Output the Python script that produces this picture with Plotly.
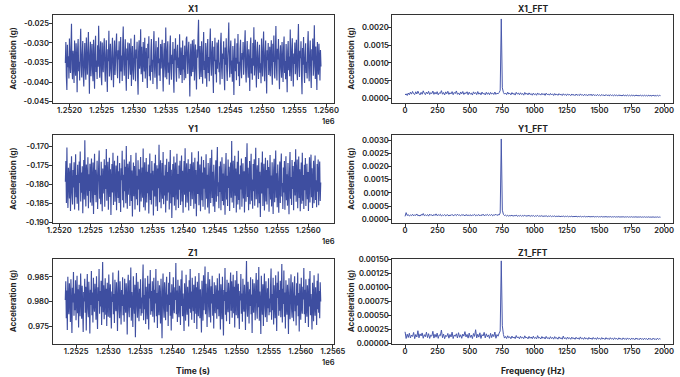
import plotly.graph_objects as go

# ---------------- data ----------------
# time-domain samples (g); sampling grid given by start time and interval
x1_t0, x1_dt = 1251935, 7.976
y1_t0, y1_dt = 1252099, 8.222
z1_t0, z1_dt = 1252331, 7.974

x1 = [-0.0351,-0.0298,-0.0387,-0.0420,-0.0305,-0.0362,-0.0334,-0.0391,-0.0289,-0.0346,-0.0377,-0.0312,-0.0251,-0.0368,-0.0393,-0.0320,-0.0341,-0.0402,-0.0294,-0.0357,-0.0384,-0.0301,-0.0339,-0.0426,-0.0315,
      -0.0290,-0.0372,-0.0348,-0.0396,-0.0309,-0.0264,-0.0359,-0.0388,-0.0327,-0.0295,-0.0379,-0.0411,-0.0336,-0.0300,-0.0366,-0.0394,-0.0286,-0.0343,-0.0381,-0.0318,-0.0272,-0.0355,-0.0430,-0.0329,-0.0297,
      -0.0385,-0.0340,-0.0303,-0.0369,-0.0398,-0.0292,-0.0350,-0.0417,-0.0313,-0.0282,-0.0374,-0.0345,-0.0392,-0.0306,-0.0361,-0.0256,-0.0337,-0.0389,-0.0321,-0.0296,-0.0383,-0.0408,-0.0299,-0.0352,-0.0375,
      -0.0311,-0.0288,-0.0364,-0.0399,-0.0330,-0.0293,-0.0378,-0.0425,-0.0316,-0.0347,-0.0269,-0.0386,-0.0354,-0.0302,-0.0371,-0.0395,-0.0324,-0.0287,-0.0358,-0.0413,-0.0338,-0.0294,-0.0382,-0.0349,-0.0307,
      -0.0276,-0.0367,-0.0390,-0.0319,-0.0342,-0.0296,-0.0403,-0.0360,-0.0285,-0.0373,-0.0332,-0.0397,-0.0304,-0.0258,-0.0356,-0.0384,-0.0328,-0.0291,-0.0376,-0.0422,-0.0314,-0.0344,-0.0299,-0.0392,-0.0363,
      -0.0301,-0.0335,-0.0381,-0.0289,-0.0410,-0.0353,-0.0308,-0.0370,-0.0394,-0.0326,-0.0279,-0.0361,-0.0398,-0.0317,-0.0340,-0.0297,-0.0387,-0.0432,-0.0322,-0.0293,-0.0366,-0.0349,-0.0265,-0.0380,-0.0310,
      -0.0357,-0.0400,-0.0298,-0.0334,-0.0373,-0.0287,-0.0391,-0.0346,-0.0313,-0.0369,-0.0415,-0.0302,-0.0339,-0.0283,-0.0385,-0.0358,-0.0396,-0.0321,-0.0290,-0.0374,-0.0343,-0.0405,-0.0306,-0.0270,-0.0362,
      -0.0389,-0.0329,-0.0295,-0.0378,-0.0418,-0.0311,-0.0352,-0.0286,-0.0383,-0.0340,-0.0397,-0.0303,-0.0365,-0.0326,-0.0292,-0.0371,-0.0424,-0.0336,-0.0300,-0.0359,-0.0388,-0.0261,-0.0347,-0.0393,-0.0318,
      -0.0296,-0.0376,-0.0350,-0.0407,-0.0309,-0.0281,-0.0367,-0.0394,-0.0330,-0.0354,-0.0298,-0.0386,-0.0427,-0.0315,-0.0344,-0.0288,-0.0372,-0.0399,-0.0323,-0.0305,-0.0364,-0.0337,-0.0391,-0.0278,-0.0356,
      -0.0382,-0.0312,-0.0345,-0.0402,-0.0294,-0.0368,-0.0331,-0.0395,-0.0307,-0.0353,-0.0390,-0.0289,-0.0284,-0.0342,-0.0379,-0.0320,-0.0297,-0.0366,-0.0437,-0.0334,-0.0302,-0.0385,-0.0357,-0.0293,-0.0374,
      -0.0328,-0.0291,-0.0396,-0.0349,-0.0304,-0.0371,-0.0419,-0.0317,-0.0338,-0.0283,-0.0241,-0.0362,-0.0393,-0.0308,-0.0355,-0.0387,-0.0296,-0.0340,-0.0404,-0.0325,-0.0272,-0.0369,-0.0346,-0.0391,-0.0300,
      -0.0359,-0.0412,-0.0314,-0.0290,-0.0377,-0.0336,-0.0398,-0.0306,-0.0263,-0.0351,-0.0384,-0.0322,-0.0295,-0.0373,-0.0428,-0.0310,-0.0347,-0.0287,-0.0380,-0.0343,-0.0401,-0.0299,-0.0366,-0.0319,-0.0292,
      -0.0375,-0.0350,-0.0406,-0.0303,-0.0274,-0.0363,-0.0392,-0.0327,-0.0341,-0.0296,-0.0383,-0.0421,-0.0312,-0.0356,-0.0288,-0.0370,-0.0397,-0.0333,-0.0305,-0.0248,-0.0360,-0.0388,-0.0318,-0.0294,-0.0379,
      -0.0345,-0.0399,-0.0308,-0.0364,-0.0433,-0.0321,-0.0289,-0.0372,-0.0338,-0.0395,-0.0301,-0.0353,-0.0277,-0.0385,-0.0348,-0.0410,-0.0315,-0.0292,-0.0367,-0.0390,-0.0326,-0.0343,-0.0298,-0.0381,-0.0355,
      -0.0304,-0.0268,-0.0374,-0.0401,-0.0331,-0.0295,-0.0362,-0.0389,-0.0316,-0.0350,-0.0423,-0.0309,-0.0286,-0.0378,-0.0339,-0.0394,-0.0300,-0.0358,-0.0260,-0.0383,-0.0347,-0.0292,-0.0369,-0.0414,-0.0323,
      -0.0297,-0.0365,-0.0392,-0.0334,-0.0305,-0.0376,-0.0352,-0.0403,-0.0289,-0.0341,-0.0386,-0.0313,-0.0271,-0.0361,-0.0398,-0.0328,-0.0294,-0.0371,-0.0429,-0.0319,-0.0344,-0.0300,-0.0382,-0.0356,-0.0310,
      -0.0385,-0.0337,-0.0293,-0.0368,-0.0407,-0.0302,-0.0349,-0.0281,-0.0379,-0.0391,-0.0324,-0.0257,-0.0357,-0.0396,-0.0315,-0.0342,-0.0290,-0.0373,-0.0418,-0.0330,-0.0306,-0.0366,-0.0389,-0.0298,-0.0351,
      -0.0400,-0.0311,-0.0284,-0.0377,-0.0346,-0.0393,-0.0303,-0.0360,-0.0426,-0.0322,-0.0295,-0.0370,-0.0335,-0.0385,-0.0266,-0.0348,-0.0397,-0.0317,-0.0288,-0.0364,-0.0411,-0.0327,-0.0354,-0.0299,-0.0380,
      -0.0342,-0.0292,-0.0374,-0.0395,-0.0308,-0.0252,-0.0361,-0.0387,-0.0320,-0.0339,-0.0296,-0.0383,-0.0431,-0.0313,-0.0356,-0.0285,-0.0369,-0.0402,-0.0330,-0.0301,-0.0377,-0.0348,-0.0391,-0.0305,-0.0270,
      -0.0363,-0.0398,-0.0325,-0.0294,-0.0372,-0.0415,-0.0316,-0.0345,-0.0289,-0.0384,-0.0359,-0.0255,-0.0337,-0.0392,-0.0309,-0.0366,-0.0420,-0.0298,-0.0351,-0.0381,-0.0302,-0.0343,-0.0396,-0.0318,-0.0360]

y1 = [-0.1793,-0.1738,-0.1849,-0.1702,-0.1815,-0.1862,-0.1756,-0.1781,-0.1837,-0.1744,-0.1870,-0.1799,-0.1725,-0.1826,-0.1853,-0.1762,-0.1808,-0.1741,-0.1866,-0.1787,-0.1720,-0.1834,-0.1775,-0.1851,-0.1748,
      -0.1811,-0.1869,-0.1739,-0.1796,-0.1713,-0.1845,-0.1768,-0.1822,-0.1752,-0.1876,-0.1790,-0.1735,-0.1840,-0.1683,-0.1804,-0.1858,-0.1747,-0.1782,-0.1830,-0.1728,-0.1863,-0.1773,-0.1817,-0.1745,-0.1848,
      -0.1769,-0.1731,-0.1856,-0.1800,-0.1742,-0.1878,-0.1785,-0.1719,-0.1828,-0.1761,-0.1847,-0.1795,-0.1737,-0.1865,-0.1809,-0.1754,-0.1710,-0.1838,-0.1776,-0.1852,-0.1740,-0.1801,-0.1871,-0.1758,-0.1824,
      -0.1786,-0.1733,-0.1859,-0.1749,-0.1812,-0.1706,-0.1843,-0.1778,-0.1740,-0.1867,-0.1797,-0.1729,-0.1833,-0.1760,-0.1881,-0.1792,-0.1746,-0.1821,-0.1716,-0.1854,-0.1772,-0.1737,-0.1846,-0.1803,-0.1750,
      -0.1868,-0.1780,-0.1724,-0.1836,-0.1765,-0.1849,-0.1743,-0.1806,-0.1873,-0.1757,-0.1789,-0.1711,-0.1842,-0.1774,-0.1861,-0.1734,-0.1818,-0.1753,-0.1850,-0.1698,-0.1795,-0.1864,-0.1745,-0.1827,-0.1771,
      -0.1739,-0.1857,-0.1802,-0.1722,-0.1844,-0.1763,-0.1885,-0.1788,-0.1742,-0.1831,-0.1751,-0.1866,-0.1794,-0.1716,-0.1839,-0.1777,-0.1855,-0.1736,-0.1813,-0.1760,-0.1872,-0.1784,-0.1727,-0.1845,-0.1798,
      -0.1755,-0.1835,-0.1705,-0.1860,-0.1779,-0.1741,-0.1869,-0.1807,-0.1730,-0.1848,-0.1766,-0.1823,-0.1747,-0.1877,-0.1791,-0.1718,-0.1841,-0.1770,-0.1853,-0.1738,-0.1816,-0.1764,-0.1882,-0.1797,-0.1744,
      -0.1832,-0.1721,-0.1858,-0.1783,-0.1749,-0.1870,-0.1758,-0.1810,-0.1695,-0.1847,-0.1773,-0.1736,-0.1863,-0.1800,-0.1743,-0.1838,-0.1714,-0.1852,-0.1776,-0.1829,-0.1748,-0.1874,-0.1792,-0.1732,-0.1843,
      -0.1767,-0.1821,-0.1740,-0.1866,-0.1787,-0.1709,-0.1850,-0.1761,-0.1889,-0.1805,-0.1746,-0.1834,-0.1726,-0.1856,-0.1781,-0.1742,-0.1868,-0.1799,-0.1719,-0.1840,-0.1772,-0.1862,-0.1750,-0.1814,-0.1737,
      -0.1854,-0.1790,-0.1723,-0.1845,-0.1764,-0.1875,-0.1784,-0.1738,-0.1827,-0.1704,-0.1860,-0.1775,-0.1744,-0.1848,-0.1808,-0.1733,-0.1869,-0.1759,-0.1819,-0.1745,-0.1857,-0.1793,-0.1715,-0.1839,-0.1770,
      -0.1741,-0.1864,-0.1796,-0.1729,-0.1851,-0.1762,-0.1884,-0.1802,-0.1739,-0.1825,-0.1712,-0.1855,-0.1778,-0.1747,-0.1871,-0.1789,-0.1726,-0.1842,-0.1768,-0.1859,-0.1735,-0.1811,-0.1755,-0.1867,-0.1785,
      -0.1720,-0.1838,-0.1774,-0.1861,-0.1743,-0.1806,-0.1877,-0.1760,-0.1730,-0.1849,-0.1791,-0.1708,-0.1836,-0.1766,-0.1858,-0.1748,-0.1815,-0.1873,-0.1781,-0.1736,-0.1846,-0.1757,-0.1701,-0.1831,-0.1794,
      -0.1863,-0.1752,-0.1820,-0.1739,-0.1868,-0.1786,-0.1728,-0.1844,-0.1771,-0.1855,-0.1745,-0.1799,-0.1880,-0.1763,-0.1717,-0.1840,-0.1777,-0.1857,-0.1734,-0.1809,-0.1753,-0.1870,-0.1788,-0.1742,-0.1835,
      -0.1685,-0.1848,-0.1769,-0.1737,-0.1862,-0.1795,-0.1724,-0.1830,-0.1758,-0.1874,-0.1782,-0.1740,-0.1853,-0.1711,-0.1841,-0.1773,-0.1866,-0.1750,-0.1813,-0.1731,-0.1859,-0.1797,-0.1744,-0.1837,-0.1765,
      -0.1874,-0.1780,-0.1727,-0.1846,-0.1761,-0.1691,-0.1833,-0.1756,-0.1868,-0.1801,-0.1738,-0.1852,-0.1774,-0.1719,-0.1843,-0.1787,-0.1864,-0.1746,-0.1818,-0.1733,-0.1856,-0.1769,-0.1703,-0.1839,-0.1792,
      -0.1749,-0.1861,-0.1783,-0.1730,-0.1850,-0.1766,-0.1886,-0.1798,-0.1742,-0.1824,-0.1713,-0.1857,-0.1779,-0.1745,-0.1869,-0.1794,-0.1729,-0.1845,-0.1762,-0.1853,-0.1736,-0.1810,-0.1754,-0.1872,-0.1788,
      -0.1722,-0.1840,-0.1776,-0.1858,-0.1741,-0.1807,-0.1878,-0.1763,-0.1732,-0.1847,-0.1790,-0.1710,-0.1835,-0.1770,-0.1860,-0.1747,-0.1817,-0.1875,-0.1784,-0.1739,-0.1849,-0.1758,-0.1718,-0.1832,-0.1796,
      -0.1865,-0.1755,-0.1821,-0.1738,-0.1867,-0.1789,-0.1725,-0.1842,-0.1773,-0.1856,-0.1743,-0.1803,-0.1879,-0.1766,-0.1714,-0.1838,-0.1780,-0.1854,-0.1735,-0.1812,-0.1751,-0.1868,-0.1786,-0.1740,-0.1829,
      -0.1707,-0.1846,-0.1771,-0.1734,-0.1863,-0.1792,-0.1726,-0.1836,-0.1760,-0.1871,-0.1783,-0.1742,-0.1851,-0.1716,-0.1843,-0.1775,-0.1865,-0.1748,-0.1815,-0.1730,-0.1857,-0.1799,-0.1745,-0.1839,-0.1767,
      -0.1870,-0.1782,-0.1728,-0.1848,-0.1764,-0.1721,-0.1834,-0.1757,-0.1862,-0.1802,-0.1737,-0.1850,-0.1776,-0.1723,-0.1841,-0.1789,-0.1860,-0.1746,-0.1819,-0.1734,-0.1855,-0.1770,-0.1739,-0.1844,-0.1795]

z1 = [0.9803,0.9841,0.9766,0.9822,0.9742,0.9850,0.9789,0.9774,0.9837,0.9812,0.9758,0.9845,0.9785,0.9736,0.9828,0.9798,0.9860,0.9771,0.9816,0.9782,0.9843,0.9762,0.9807,0.9852,0.9776,
      0.9825,0.9747,0.9834,0.9795,0.9770,0.9857,0.9810,0.9765,0.9832,0.9788,0.9738,0.9819,0.9800,0.9846,0.9777,0.9830,0.9741,0.9813,0.9856,0.9784,0.9768,0.9840,0.9802,0.9735,0.9824,
      0.9793,0.9862,0.9772,0.9818,0.9757,0.9848,0.9797,0.9779,0.9836,0.9808,0.9763,0.9851,0.9786,0.9744,0.9829,0.9801,0.9866,0.9775,0.9821,0.9790,0.9842,0.9752,0.9811,0.9880,0.9778,
      0.9833,0.9764,0.9805,0.9847,0.9773,0.9826,0.9750,0.9838,0.9796,0.9769,0.9855,0.9809,0.9767,0.9835,0.9787,0.9745,0.9820,0.9799,0.9859,0.9774,0.9815,0.9756,0.9844,0.9792,0.9780,
      0.9839,0.9804,0.9740,0.9827,0.9863,0.9783,0.9766,0.9841,0.9806,0.9753,0.9823,0.9791,0.9849,0.9772,0.9814,0.9759,0.9846,0.9798,0.9777,0.9837,0.9810,0.9733,0.9828,0.9854,0.9781,
      0.9768,0.9843,0.9787,0.9869,0.9761,0.9819,0.9794,0.9748,0.9851,0.9802,0.9775,0.9834,0.9727,0.9812,0.9858,0.9790,0.9767,0.9840,0.9799,0.9760,0.9826,0.9785,0.9845,0.9771,0.9808,
      0.9776,0.9831,0.9875,0.9762,0.9813,0.9784,0.9847,0.9754,0.9830,0.9801,0.9764,0.9852,0.9789,0.9743,0.9836,0.9806,0.9864,0.9773,0.9821,0.9780,0.9841,0.9769,0.9811,0.9848,0.9757,
      0.9824,0.9796,0.9866,0.9770,0.9817,0.9746,0.9842,0.9792,0.9772,0.9833,0.9805,0.9755,0.9846,0.9786,0.9725,0.9819,0.9857,0.9787,0.9767,0.9839,0.9798,0.9762,0.9827,0.9850,0.9779,
      0.9814,0.9750,0.9838,0.9793,0.9860,0.9771,0.9818,0.9741,0.9835,0.9800,0.9765,0.9849,0.9790,0.9776,0.9829,0.9803,0.9878,0.9774,0.9822,0.9758,0.9844,0.9788,0.9768,0.9832,0.9809,
      0.9752,0.9845,0.9791,0.9863,0.9770,0.9816,0.9783,0.9740,0.9837,0.9804,0.9761,0.9854,0.9794,0.9773,0.9830,0.9797,0.9749,0.9843,0.9785,0.9866,0.9777,0.9820,0.9763,0.9848,0.9801,
      0.9780,0.9834,0.9756,0.9811,0.9851,0.9775,0.9829,0.9744,0.9840,0.9795,0.9770,0.9858,0.9806,0.9766,0.9825,0.9787,0.9737,0.9842,0.9799,0.9761,0.9853,0.9782,0.9817,0.9871,0.9774,
      0.9836,0.9803,0.9748,0.9826,0.9860,0.9789,0.9768,0.9845,0.9808,0.9757,0.9831,0.9796,0.9852,0.9771,0.9815,0.9745,0.9839,0.9792,0.9776,0.9833,0.9810,0.9765,0.9847,0.9784,0.9822,
      0.9770,0.9857,0.9798,0.9743,0.9835,0.9805,0.9764,0.9850,0.9786,0.9731,0.9823,0.9801,0.9868,0.9773,0.9819,0.9760,0.9844,0.9793,0.9778,0.9838,0.9812,0.9754,0.9829,0.9859,0.9781,
      0.9841,0.9767,0.9809,0.9854,0.9776,0.9830,0.9747,0.9843,0.9797,0.9772,0.9862,0.9813,0.9766,0.9836,0.9790,0.9744,0.9821,0.9802,0.9856,0.9775,0.9816,0.9759,0.9846,0.9794,0.9779,
      0.9834,0.9800,0.9742,0.9828,0.9882,0.9785,0.9769,0.9840,0.9807,0.9755,0.9825,0.9791,0.9849,0.9774,0.9814,0.9736,0.9845,0.9799,0.9777,0.9837,0.9809,0.9762,0.9831,0.9858,0.9783,
      0.9765,0.9844,0.9788,0.9870,0.9761,0.9820,0.9795,0.9734,0.9852,0.9803,0.9773,0.9835,0.9750,0.9813,0.9857,0.9789,0.9768,0.9841,0.9798,0.9758,0.9827,0.9786,0.9847,0.9772,0.9806,
      0.9778,0.9832,0.9867,0.9763,0.9815,0.9782,0.9848,0.9753,0.9833,0.9802,0.9766,0.9853,0.9790,0.9740,0.9838,0.9807,0.9861,0.9771,0.9823,0.9781,0.9842,0.9768,0.9810,0.9876,0.9757,
      0.9826,0.9795,0.9863,0.9769,0.9818,0.9745,0.9843,0.9793,0.9773,0.9834,0.9804,0.9734,0.9847,0.9787,0.9764,0.9819,0.9855,0.9786,0.9767,0.9839,0.9797,0.9760,0.9828,0.9851,0.9780,
      0.9812,0.9751,0.9837,0.9792,0.9859,0.9770,0.9817,0.9739,0.9836,0.9801,0.9763,0.9848,0.9789,0.9775,0.9830,0.9804,0.9868,0.9774,0.9824,0.9756,0.9845,0.9787,0.9769,0.9833,0.9808,
      0.9748,0.9846,0.9790,0.9862,0.9772,0.9815,0.9782,0.9743,0.9838,0.9803,0.9760,0.9853,0.9795,0.9771,0.9829,0.9798,0.9752,0.9842,0.9784,0.9857,0.9777,0.9821,0.9766,0.9839,0.9800]

# spectra (g); frequency bin width (Hz)
f_step = 8.25

x1_fft = [1.05e-4,1.38e-4,9.2e-5,1.61e-4,1.12e-4,1.86e-4,1.29e-4,2.04e-4,1.41e-4,1.17e-4,1.95e-4,1.33e-4,2.12e-4,1.48e-4,1.09e-4,1.79e-4,1.26e-4,2.21e-4,1.52e-4,1.15e-4,
          1.88e-4,1.36e-4,2.07e-4,1.19e-4,1.71e-4,1.44e-4,2.15e-4,1.23e-4,1.82e-4,1.31e-4,1.98e-4,1.11e-4,1.66e-4,1.49e-4,2.26e-4,1.27e-4,1.74e-4,1.06e-4,1.92e-4,1.39e-4,
          2.09e-4,1.21e-4,1.68e-4,1.35e-4,1.99e-4,1.14e-4,1.77e-4,1.46e-4,2.18e-4,1.24e-4,1.63e-4,1.08e-4,1.90e-4,1.37e-4,2.03e-4,1.19e-4,1.72e-4,1.43e-4,1.96e-4,1.12e-4,
          1.84e-4,1.30e-4,1.58e-4,1.04e-4,1.93e-4,1.40e-4,1.75e-4,1.16e-4,2.01e-4,1.28e-4,1.65e-4,1.10e-4,1.87e-4,1.34e-4,1.54e-4,1.07e-4,1.81e-4,1.25e-4,1.69e-4,1.13e-4,
          1.78e-4,1.32e-4,1.60e-4,1.18e-4,1.89e-4,1.22e-4,1.57e-4,1.38e-4,1.73e-4,2.35e-4,2.23e-3,3.05e-4,1.76e-4,1.29e-4,1.62e-4,1.15e-4,1.85e-4,1.33e-4,1.56e-4,1.09e-4,
          1.73e-4,1.26e-4,1.52e-4,1.03e-4,1.80e-4,1.31e-4,1.59e-4,1.12e-4,1.67e-4,1.20e-4,1.48e-4,1.01e-4,1.76e-4,1.24e-4,1.55e-4,1.08e-4,1.64e-4,1.17e-4,1.45e-4,9.9e-5,
          1.58e-4,1.13e-4,1.41e-4,9.7e-5,1.62e-4,1.19e-4,1.36e-4,1.02e-4,1.53e-4,1.10e-4,1.44e-4,9.4e-5,1.57e-4,1.15e-4,1.33e-4,1.00e-4,1.49e-4,1.07e-4,1.38e-4,9.2e-5,
          1.46e-4,1.05e-4,1.31e-4,9.5e-5,1.43e-4,1.09e-4,1.27e-4,9.0e-5,1.40e-4,1.03e-4,1.25e-4,8.9e-5,1.37e-4,1.01e-4,1.22e-4,8.7e-5,1.34e-4,9.8e-5,1.20e-4,8.6e-5,
          1.32e-4,9.6e-5,1.18e-4,8.8e-5,1.36e-4,9.9e-5,1.16e-4,8.4e-5,1.29e-4,9.3e-5,1.14e-4,8.5e-5,1.27e-4,9.4e-5,1.30e-4,8.3e-5,1.24e-4,9.1e-5,1.12e-4,8.2e-5,
          1.23e-4,8.9e-5,1.10e-4,8.1e-5,1.21e-4,9.0e-5,1.08e-4,8.0e-5,1.19e-4,8.7e-5,1.07e-4,7.9e-5,1.17e-4,8.6e-5,1.05e-4,7.8e-5,1.15e-4,8.5e-5,1.04e-4,7.7e-5,
          1.13e-4,8.4e-5,1.02e-4,7.6e-5,1.12e-4,8.3e-5,1.01e-4,7.6e-5,1.10e-4,8.2e-5,1.00e-4,7.5e-5,1.09e-4,8.1e-5,9.9e-5,7.4e-5,1.08e-4,8.0e-5,9.8e-5,7.4e-5,
          1.07e-4,7.9e-5,9.7e-5,7.3e-5,1.06e-4,7.9e-5,9.6e-5,7.3e-5,1.05e-4,7.8e-5,9.6e-5,7.2e-5,1.04e-4,7.8e-5,9.5e-5,7.2e-5,1.03e-4,7.7e-5,9.5e-5,8.6e-5]

y1_fft = [1.12e-4,2.52e-4,1.46e-4,1.78e-4,1.24e-4,1.63e-4,1.38e-4,1.91e-4,1.29e-4,1.72e-4,1.47e-4,2.02e-4,1.33e-4,1.58e-4,1.21e-4,1.84e-4,1.50e-4,2.18e-4,1.35e-4,1.67e-4,
          1.41e-4,1.79e-4,1.20e-4,1.96e-4,1.52e-4,1.69e-4,1.28e-4,1.85e-4,1.44e-4,2.06e-4,1.36e-4,1.74e-4,1.49e-4,1.89e-4,1.25e-4,1.64e-4,1.40e-4,1.81e-4,1.31e-4,1.59e-4,
          1.73e-4,1.27e-4,1.62e-4,1.45e-4,1.87e-4,1.34e-4,1.57e-4,1.76e-4,1.39e-4,1.93e-4,1.48e-4,1.65e-4,1.30e-4,1.80e-4,1.54e-4,1.70e-4,1.26e-4,1.83e-4,1.43e-4,1.61e-4,
          1.37e-4,1.77e-4,1.23e-4,1.68e-4,1.51e-4,1.88e-4,1.32e-4,1.60e-4,1.46e-4,1.82e-4,1.29e-4,1.71e-4,1.42e-4,1.94e-4,1.35e-4,1.66e-4,1.53e-4,1.86e-4,1.38e-4,1.75e-4,
          1.48e-4,1.84e-4,1.33e-4,1.70e-4,1.55e-4,1.92e-4,1.44e-4,1.79e-4,1.62e-4,2.40e-4,3.04e-3,3.45e-4,1.86e-4,1.41e-4,1.58e-4,1.24e-4,1.51e-4,1.19e-4,1.46e-4,1.28e-4,
          1.55e-4,1.16e-4,1.43e-4,1.30e-4,1.61e-4,1.14e-4,1.39e-4,1.25e-4,1.52e-4,1.11e-4,1.47e-4,1.22e-4,1.58e-4,1.13e-4,1.36e-4,1.27e-4,1.49e-4,1.09e-4,1.42e-4,1.20e-4,
          1.45e-4,1.07e-4,1.34e-4,1.18e-4,1.50e-4,1.06e-4,1.31e-4,1.15e-4,1.40e-4,1.04e-4,1.28e-4,1.13e-4,1.37e-4,1.02e-4,1.25e-4,1.10e-4,1.33e-4,1.01e-4,1.23e-4,1.08e-4,
          1.30e-4,9.9e-5,1.20e-4,1.06e-4,1.27e-4,9.7e-5,1.17e-4,1.04e-4,1.25e-4,9.6e-5,1.15e-4,1.02e-4,1.22e-4,9.4e-5,1.13e-4,1.00e-4,1.20e-4,9.3e-5,1.11e-4,9.9e-5,
          1.18e-4,9.1e-5,1.09e-4,9.7e-5,1.16e-4,9.0e-5,1.07e-4,9.6e-5,1.14e-4,8.9e-5,1.05e-4,9.4e-5,1.12e-4,8.8e-5,1.04e-4,9.3e-5,1.10e-4,8.7e-5,1.02e-4,9.2e-5,
          1.08e-4,8.6e-5,1.01e-4,9.0e-5,1.07e-4,8.5e-5,9.9e-5,8.9e-5,1.05e-4,8.4e-5,9.8e-5,8.8e-5,1.04e-4,8.3e-5,9.7e-5,8.7e-5,1.02e-4,8.2e-5,9.6e-5,8.6e-5,
          1.01e-4,8.1e-5,9.5e-5,8.5e-5,1.00e-4,8.0e-5,9.4e-5,8.4e-5,9.9e-5,7.9e-5,9.3e-5,8.3e-5,9.8e-5,7.9e-5,9.2e-5,8.2e-5,9.7e-5,7.8e-5,9.1e-5,8.1e-5,
          9.6e-5,7.7e-5,9.0e-5,8.0e-5,9.5e-5,7.7e-5,8.9e-5,7.9e-5,9.4e-5,7.6e-5,8.8e-5,7.8e-5,9.3e-5,7.5e-5,8.7e-5,7.8e-5,9.2e-5,7.5e-5,8.6e-5,8.0e-5]

z1_fft = [2.05e-4,8.6e-5,1.63e-4,1.04e-4,1.79e-4,9.5e-5,1.48e-4,1.22e-4,1.93e-4,8.3e-5,1.57e-4,1.12e-4,2.24e-4,9.8e-5,1.68e-4,1.31e-4,1.85e-4,9.0e-5,1.54e-4,1.17e-4,
          1.98e-4,1.01e-4,1.72e-4,8.7e-5,1.46e-4,1.27e-4,2.14e-4,9.3e-5,1.61e-4,1.09e-4,1.82e-4,8.8e-5,1.51e-4,1.35e-4,2.36e-4,1.00e-4,1.66e-4,8.2e-5,1.43e-4,1.20e-4,
          1.76e-4,9.1e-5,1.58e-4,1.13e-4,1.99e-4,8.5e-5,1.49e-4,1.25e-4,1.70e-4,9.4e-5,1.89e-4,1.07e-4,1.52e-4,8.9e-5,1.65e-4,1.28e-4,2.08e-4,1.14e-4,1.59e-4,9.2e-5,
          1.83e-4,1.05e-4,1.47e-4,8.4e-5,1.74e-4,1.23e-4,2.42e-4,9.6e-5,1.62e-4,1.10e-4,1.87e-4,8.6e-5,1.55e-4,1.30e-4,1.95e-4,9.7e-5,1.69e-4,1.16e-4,1.50e-4,8.8e-5,
          1.78e-4,1.02e-4,1.60e-4,1.19e-4,2.01e-4,9.0e-5,1.56e-4,1.26e-4,1.81e-4,2.20e-4,1.47e-3,3.12e-4,1.58e-4,9.3e-5,1.21e-4,8.5e-5,1.34e-4,9.8e-5,1.16e-4,8.1e-5,
          1.29e-4,9.4e-5,1.12e-4,8.3e-5,1.38e-4,9.6e-5,1.15e-4,8.0e-5,1.26e-4,9.2e-5,1.10e-4,8.2e-5,1.33e-4,9.5e-5,1.08e-4,7.9e-5,1.24e-4,9.0e-5,1.13e-4,8.1e-5,
          1.27e-4,8.8e-5,1.06e-4,7.8e-5,1.36e-4,9.1e-5,1.04e-4,7.7e-5,1.21e-4,8.9e-5,1.09e-4,7.6e-5,1.23e-4,8.7e-5,1.02e-4,7.5e-5,1.18e-4,8.6e-5,1.05e-4,7.4e-5,
          1.19e-4,8.5e-5,1.01e-4,7.3e-5,1.15e-4,8.4e-5,1.00e-4,7.3e-5,1.28e-4,8.3e-5,9.9e-5,7.2e-5,1.12e-4,8.2e-5,9.8e-5,7.1e-5,1.10e-4,8.1e-5,9.7e-5,7.1e-5,
          1.08e-4,8.0e-5,9.6e-5,7.0e-5,1.14e-4,7.9e-5,9.5e-5,7.0e-5,1.06e-4,7.8e-5,9.4e-5,6.9e-5,1.05e-4,7.8e-5,9.3e-5,6.9e-5,1.04e-4,7.7e-5,9.2e-5,6.8e-5,
          1.03e-4,7.6e-5,9.1e-5,6.8e-5,1.02e-4,7.6e-5,9.0e-5,6.7e-5,1.01e-4,7.5e-5,8.9e-5,6.7e-5,1.00e-4,7.5e-5,8.9e-5,6.6e-5,9.9e-5,7.4e-5,8.8e-5,6.6e-5,
          9.8e-5,7.4e-5,8.7e-5,6.5e-5,9.7e-5,7.3e-5,8.7e-5,6.5e-5,9.6e-5,7.3e-5,8.6e-5,6.5e-5,9.5e-5,7.2e-5,8.6e-5,6.4e-5,9.5e-5,7.2e-5,8.5e-5,6.4e-5,
          9.4e-5,7.1e-5,8.5e-5,6.4e-5,9.3e-5,7.1e-5,8.4e-5,6.3e-5,9.3e-5,7.0e-5,8.4e-5,6.3e-5,9.2e-5,7.0e-5,8.3e-5,6.3e-5,9.1e-5,7.0e-5,8.3e-5,7.6e-5]

# tick labels
time_ticks_xy = [1.2520, 1.2525, 1.2530, 1.2535, 1.2540, 1.2545, 1.2550, 1.2555, 1.2560]
time_ticks_z = [1.2525, 1.2530, 1.2535, 1.2540, 1.2545, 1.2550, 1.2555, 1.2560, 1.2565]
freq_ticks = [0, 250, 500, 750, 1000, 1250, 1500, 1750, 2000]
x1_yticks = [-0.045, -0.040, -0.035, -0.030, -0.025]
y1_yticks = [-0.190, -0.185, -0.180, -0.175, -0.170]
z1_yticks = [0.975, 0.980, 0.985]
x1f_yticks = [0.0000, 0.0005, 0.0010, 0.0015, 0.0020]
y1f_yticks = [0.0000, 0.0005, 0.0010, 0.0015, 0.0020, 0.0025, 0.0030]
z1f_yticks = [0.00000, 0.00025, 0.00050, 0.00075, 0.00100, 0.00125, 0.00150]

# ---------------- figure ----------------
W, H = 680, 377
FONT = "Inter"
LINE = "rgb(62,78,160)"
LINE_FFT = "rgb(72,88,172)"


def px_x(p):
    return p / W


def px_y(p):
    return 1 - p / H


def grid(t0, dt, n):
    return [t0 + dt * i for i in range(n)]


col_dom = [[px_x(52.5), px_x(333.5)], [px_x(392.3), px_x(673.3)]]
row_px = [(15, 102.7), (135, 223), (258.5, 344)]
f_range = [-98.6, 2070.3]

specs = [
    ("X1", 0, 0, grid(x1_t0, x1_dt, len(x1)), x1, [1251735, 1256110], [-0.04526, -0.02288],
     [v * 1e6 for v in time_ticks_xy], ["%.4f" % v for v in time_ticks_xy], x1_yticks, ["%.3f" % v for v in x1_yticks]),
    ("X1_FFT", 0, 1, grid(0, f_step, len(x1_fft)), x1_fft, f_range, [-0.00011, 0.00234],
     freq_ticks, [str(v) for v in freq_ticks], x1f_yticks, ["%.4f" % v for v in x1f_yticks]),
    ("Y1", 1, 0, grid(y1_t0, y1_dt, len(y1)), y1, [1251892, 1256407], [-0.1902, -0.1669],
     [v * 1e6 for v in time_ticks_xy], ["%.4f" % v for v in time_ticks_xy], y1_yticks, ["%.3f" % v for v in y1_yticks]),
    ("Y1_FFT", 1, 1, grid(0, f_step, len(y1_fft)), y1_fft, f_range, [-0.00014, 0.00319],
     freq_ticks, [str(v) for v in freq_ticks], y1f_yticks, ["%.4f" % v for v in y1f_yticks]),
    ("Z1", 2, 0, grid(z1_t0, z1_dt, len(z1)), z1, [1252132, 1256509], [0.97135, 0.98873],
     [v * 1e6 for v in time_ticks_z], ["%.4f" % v for v in time_ticks_z], z1_yticks, ["%.3f" % v for v in z1_yticks]),
    ("Z1_FFT", 2, 1, grid(0, f_step, len(z1_fft)), z1_fft, f_range, [-0.0000125, 0.0015125],
     freq_ticks, [str(v) for v in freq_ticks], z1f_yticks, ["%.5f" % v for v in z1f_yticks]),
]

fig = go.Figure()
tickfont = dict(family=FONT, size=7.6, color="#222", weight=600)
annotations = []
for k, (name, r, c, xs, ys, xr, yr, xt, xtt, yt, ytt) in enumerate(specs):
    idx = "" if k == 0 else str(k + 1)
    fig.add_trace(go.Scatter(x=xs, y=ys, mode="lines",
                             line=dict(color=LINE if c == 0 else LINE_FFT,
                                       width=1.15 if c == 0 else 1, simplify=False),
                             xaxis="x" + idx, yaxis="y" + idx, showlegend=False, hoverinfo="skip"))
    top, bot = row_px[r]
    common = dict(showline=True, mirror=True, linecolor="#333", linewidth=1, ticks="outside",
                  ticklen=3, tickwidth=1, tickcolor="#333", showgrid=False, zeroline=False,
                  tickfont=tickfont, automargin=False)
    fig.update_layout(**{
        "xaxis" + idx: dict(domain=col_dom[c], range=xr, tickvals=xt, ticktext=xtt,
                            anchor="y" + idx, ticklabelstandoff=-3, **common),
        "yaxis" + idx: dict(domain=[px_y(bot), px_y(top)], range=yr, tickvals=yt, ticktext=ytt,
                            anchor="x" + idx, ticklabelstandoff=-2, **common),
    })
    cx = (col_dom[c][0] + col_dom[c][1]) / 2
    annotations.append(dict(text=name, x=cx, y=px_y(top - 6), xref="paper", yref="paper",
                            showarrow=False, xanchor="center", yanchor="middle",
                            font=dict(family=FONT, size=8.5, color="#222", weight=700)))
    annotations.append(dict(text="Acceleration (g)", x=px_x(13 if c == 0 else 351),
                            y=px_y((top + bot) / 2), xref="paper", yref="paper", textangle=-90,
                            showarrow=False, xanchor="center", yanchor="middle",
                            font=dict(family=FONT, size=8, color="#222", weight=700)))
    if c == 0:
        annotations.append(dict(text="1e6", x=px_x(337), y=px_y(bot + 18.5), xref="paper", yref="paper",
                                showarrow=False, xanchor="right", yanchor="middle",
                                font=dict(family=FONT, size=7.6, color="#222", weight=600)))

annotations.append(dict(text="Time (s)", x=px_x(193), y=px_y(370.5), xref="paper", yref="paper",
                        showarrow=False, xanchor="center", yanchor="middle",
                        font=dict(family=FONT, size=8.5, color="#222", weight=700)))
annotations.append(dict(text="Frequency (Hz)", x=px_x(533), y=px_y(370.5), xref="paper", yref="paper",
                        showarrow=False, xanchor="center", yanchor="middle",
                        font=dict(family=FONT, size=8.5, color="#222", weight=700)))

fig.update_layout(width=W, height=H, margin=dict(l=0, r=0, t=0, b=0, autoexpand=False),
                  paper_bgcolor="white", plot_bgcolor="white", annotations=annotations,
                  font=dict(family=FONT))

fig.write_html("out.html", config={"displayModeBar": False},
               post_script="document.body.style.margin='0';")
